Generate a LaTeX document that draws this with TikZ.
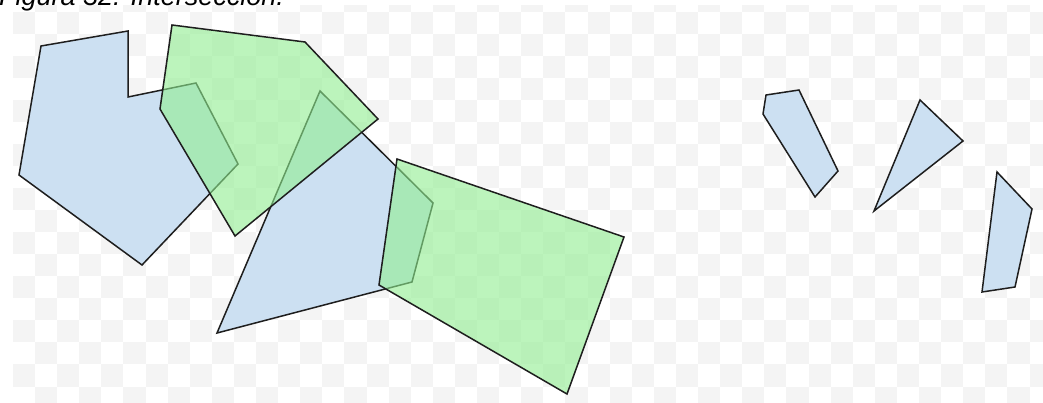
\documentclass[tikz,border=0pt]{standalone}
\usepackage{fontspec}
\setmainfont{Liberation Sans}
\definecolor{bluefill}{RGB}{204,224,242}
\definecolor{greenfill}{RGB}{144,238,144}
\definecolor{checker}{RGB}{244,244,244}
\definecolor{edge}{RGB}{30,30,30}
\begin{document}
\begin{tikzpicture}[x=1pt,y=-1pt,
  blueshape/.style={fill=bluefill, draw=edge, line width=1.5pt, line join=miter},
  greenshape/.style={fill=greenfill, fill opacity=0.6, draw=edge, draw opacity=1, line width=1.5pt, line join=miter}]
\useasboundingbox (0,0) rectangle (1043,403);
\fill[white] (0,0) rectangle (1043,403);
% checkerboard background
\begin{scope}
\clip (6,6) rectangle (1043,403);
\foreach \c in {0,...,47} {
  \foreach \r in {0,...,19} {
    \pgfmathtruncatemacro{\cellpar}{mod(\c+\r,2)}
    \ifnum\cellpar=1
      \fill[checker] (12.9+22.1*\c, -10.4+22.05*\r) rectangle ++(22.1,22.05);
    \fi
  }
}
\end{scope}
% title (cut off at top)
\node[anchor=base west, inner sep=0pt, font=\itshape\fontsize{27}{27}\selectfont] (title) at (-1,5.5) {Figura 32: Intersección.};
% blue polygons
\draw[blueshape] (41,46) -- (128,31) -- (128,97) -- (196,83) -- (238,164) -- (142,265) -- (19,175) -- cycle;
\draw[blueshape] (320,91) -- (433,203) -- (412,282) -- (217,333) -- cycle;
% green polygons
\draw[greenshape] (172,25) -- (305,42) -- (378,119) -- (235,236) -- (160,109) -- cycle;
\draw[greenshape] (397,159) -- (624,237) -- (567,394) -- (379,285) -- cycle;
% intersection result
\draw[blueshape] (766,95) -- (799,90) -- (838,171) -- (815,197) -- (763,114) -- cycle;
\draw[blueshape] (920,100) -- (963,141) -- (874,211) -- cycle;
\draw[blueshape] (997,172) -- (1032,209) -- (1015,287) -- (982,292) -- cycle;
\end{tikzpicture}
\end{document}
